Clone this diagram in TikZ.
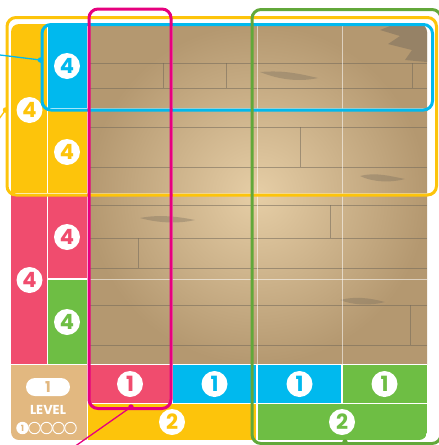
\documentclass[tikz,border=0pt]{standalone}
\usepackage{fontspec}
\setmainfont{Poppins}
\definecolor{cyel}{RGB}{253,196,11}
\definecolor{cblue}{RGB}{0,185,238}
\definecolor{cred}{RGB}{240,76,110}
\definecolor{cgreen}{RGB}{110,190,68}
\definecolor{cgreenline}{RGB}{98,168,58}
\definecolor{cmag}{RGB}{230,0,126}
\definecolor{ctan}{RGB}{226,184,128}
\definecolor{woodlight}{RGB}{230,206,166}
\definecolor{wooddark}{RGB}{180,152,112}
\definecolor{woodseam}{RGB}{115,105,90}
\begin{document}
\begin{tikzpicture}[x=1pt,y=-1pt,
  numc/.style={circle,fill=white,minimum size=26pt,inner sep=0pt,font=\fontsize{21}{21}\selectfont\bfseries},
  frame/.style={draw,line width=3pt,rounded corners=9pt,inner sep=0pt,anchor=north west},
  sep/.style={white,line width=1.4pt},
  grid/.style={white,opacity=0.55,line width=0.9pt},
  seam/.style={woodseam,opacity=0.55,line width=0.8pt},
  dot/.style={circle,inner sep=0pt,minimum size=5.5pt},
  lvc/.style={circle,draw=white,line width=0.9pt,minimum size=11.5pt,inner sep=0pt}]
\useasboundingbox (0,0) rectangle (439,445);
\begin{scope}
\clip[rounded corners=8pt] (11,24) rectangle (427,440);
% wood
\shade[inner color=woodlight,outer color=wooddark] (87.5,24) rectangle (427,364.5);
\foreach \yy in {63,88,127,167,205,238,268,305,345}{
  \draw[seam] (87.5,\yy) -- (427,\yy);}
\foreach \xx/\ya/\yb in {163/63/88,226/63/88,300/127/167,412/63/88,330/205/238,410/305/345,138/238/268}{
  \draw[seam] (\xx,\ya) -- (\xx,\yb);}
\fill[woodseam,opacity=0.45] (395,24) -- (427,24) -- (427,62) -- (405,60) -- (412,50) -- (388,44) -- (400,36) -- (380,30) -- cycle;
\fill[woodseam,opacity=0.35] (260,72) .. controls (285,70) and (300,74) .. (318,78) .. controls (300,82) and (280,80) .. (260,72) -- cycle;
\fill[woodseam,opacity=0.35] (360,176) .. controls (375,172) and (390,176) .. (405,179) .. controls (390,183) and (372,182) .. (360,176) -- cycle;
\fill[woodseam,opacity=0.35] (140,218) .. controls (160,214) and (180,217) .. (195,220) .. controls (178,224) and (158,223) .. (140,218) -- cycle;
\fill[woodseam,opacity=0.35] (340,300) .. controls (355,296) and (370,298) .. (385,302) .. controls (370,306) and (352,305) .. (340,300) -- cycle;
\foreach \xx in {172,257,342}{\draw[grid] (\xx,24) -- (\xx,364.5);}
\foreach \yy in {108.5,193.5,279}{\draw[grid] (87.5,\yy) -- (427,\yy);}
% tiles
\fill[cyel] (11,24) rectangle (47.5,193.5);
\fill[cblue] (47.5,24) rectangle (87.5,108.5);
\fill[cyel] (47.5,108.5) rectangle (87.5,193.5);
\fill[cred] (11,193.5) rectangle (47.5,364.5);
\fill[cred] (47.5,193.5) rectangle (87.5,279);
\fill[cgreen] (47.5,279) rectangle (87.5,364.5);
\fill[ctan] (11,364.5) rectangle (87.5,440);
\fill[cred] (87.5,364.5) rectangle (172,403.5);
\fill[cblue] (172,364.5) rectangle (257,403.5);
\fill[cblue] (257,364.5) rectangle (342,403.5);
\fill[cgreen] (342,364.5) rectangle (427,403.5);
\fill[cyel] (87.5,403.5) rectangle (257,440);
\fill[cgreen] (257,403.5) rectangle (427,440);
% separators
\draw[sep] (47.5,24) -- (47.5,364.5);
\draw[sep] (87.5,24) -- (87.5,440);
\draw[sep] (47.5,108.5) -- (87.5,108.5);
\draw[sep] (11,193.5) -- (87.5,193.5);
\draw[sep] (47.5,279) -- (87.5,279);
\draw[sep] (11,364.5) -- (427,364.5);
\draw[sep] (87.5,403.5) -- (427,403.5);
\foreach \xx in {172,257,342}{\draw[sep] (\xx,364.5) -- (\xx,403.5);}
\draw[sep] (257,403.5) -- (257,440);
\end{scope}
% numbers
\node[numc,text=cblue] (n1) at (67,66) {4};
\node[numc,text=cyel] (n2) at (67,152) {4};
\node[numc,text=cyel] (n3) at (29.5,110) {4};
\node[numc,text=cred] (n4) at (67,237) {4};
\node[numc,text=cred] (n5) at (29.5,280) {4};
\node[numc,text=cgreen] (n6) at (67,322) {4};
\node[numc,text=cred] (o1) at (130,384) {1};
\node[numc,text=cblue] (o2) at (214.5,384) {1};
\node[numc,text=cblue] (o3) at (299.5,384) {1};
\node[numc,text=cgreen] (o4) at (384.5,384) {1};
\node[numc,text=cyel] (t1) at (172,422) {2};
\node[numc,text=cgreen] (t2) at (342,422) {2};
% level tile
\node[fill=white,rounded corners=9pt,minimum width=44pt,minimum height=18pt,inner sep=0pt,text=ctan,font=\fontsize{15}{15}\selectfont\bfseries] (pill) at (48,387) {1};
\node[text=white,font=\fontsize{13}{13}\selectfont\bfseries,inner sep=0pt] (lev) at (48,410) {LEVEL};
\node[lvc,fill=white,text=ctan,font=\fontsize{8.5}{8.5}\selectfont\bfseries] (c1) at (22.5,428) {1};
\node[lvc] (c2) at (34.5,428) {};
\node[lvc] (c3) at (46.5,428) {};
\node[lvc] (c4) at (58.5,428) {};
\node[lvc] (c5) at (70.5,428) {};
% frames
\node[frame,draw=cyel,minimum width=429.5pt,minimum height=177.5pt] (yframe) at (5.5,16) {};
\node[frame,draw=cblue,minimum width=390.5pt,minimum height=85.5pt] (bframe) at (40.5,23) {};
\node[frame,draw=cmag,minimum width=82pt,minimum height=399.5pt] (mframe) at (87.5,7.5) {};
\node[frame,draw=cgreenline,minimum width=189pt,minimum height=434pt] (gframe) at (250.5,8) {};
% connectors
\coordinate (bfree) at (0,55);
\node[dot,fill=cblue] (bdot) at (40.5,60) {};
\draw[cblue,line width=1.3pt] (bfree) -- (bdot.center);
\coordinate (yfree) at (-1,119);
\node[dot,fill=cyel] (ydot) at (5.5,110) {};
\draw[cyel,line width=1.3pt] (yfree) -- (ydot.center);
\coordinate (mfree) at (74,447);
\node[dot,fill=cmag] (mdot) at (131,407) {};
\draw[cmag,line width=1.3pt] (mfree) -- (mdot.center);
\node[dot,fill=cgreenline] (gdot) at (345,442) {};
\end{tikzpicture}
\end{document}
